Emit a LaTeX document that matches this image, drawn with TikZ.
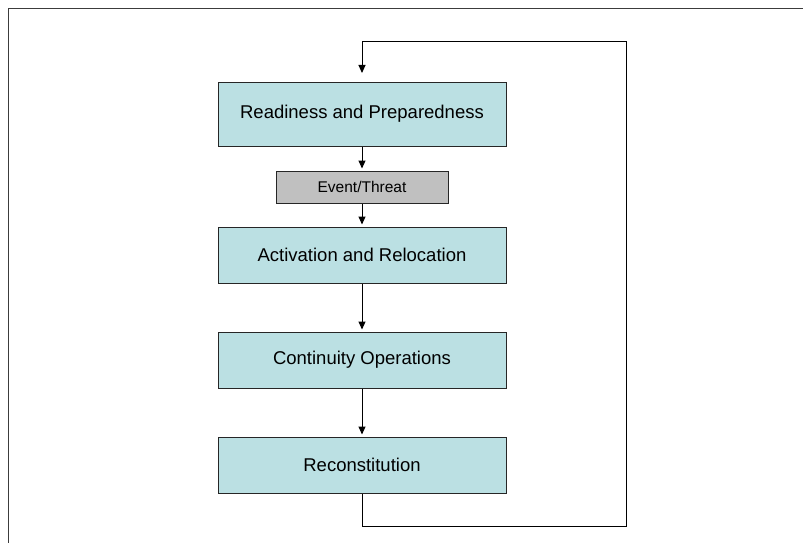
\documentclass[tikz,border=0pt]{standalone}
\usepackage{fontspec}
\setmainfont{Liberation Sans}
\usetikzlibrary{arrows.meta}
\definecolor{phasefill}{RGB}{187,224,227}
\definecolor{eventfill}{RGB}{192,192,192}
\definecolor{framegray}{RGB}{60,60,60}

\begin{document}
\begin{tikzpicture}[x=1pt,y=-1pt,
    phase/.style={draw=black!85,fill=phasefill,line width=1pt,
      minimum width=288pt,minimum height=56pt,inner sep=0pt,
      font=\fontsize{18.5}{22}\selectfont},
    event/.style={draw=black!85,fill=eventfill,line width=1pt,
      minimum width=172pt,minimum height=32pt,inner sep=0pt,
      font=\fontsize{15.5}{18}\selectfont},
    flow/.style={line width=1pt,-{Triangle[width=7pt,length=8pt]},shorten >=2pt}]
    \useasboundingbox (0,0) rectangle (803,543);
    % outer frame, only top and left edges show
    \draw[framegray,line width=1.5pt] (8.5,543) |- (803,8.5);
    \node[phase,minimum height=64pt] (ready) at (362,114) {Readiness and Preparedness};
    \node[event] (event) at (362,187) {Event/Threat};
    \node[phase] (activ) at (362,255) {Activation and Relocation};
    \node[phase] (contin) at (362,360) {Continuity Operations};
    \node[phase] (recon) at (362,465) {Reconstitution};
    \coordinate (loopbr) at (626,526);
    \coordinate (looptr) at (626,42);
    \coordinate (loopin) at (362,73);
    \draw[flow] (ready) -- (event);
    \draw[flow] (event) -- (activ);
    \draw[flow] (activ) -- (contin);
    \draw[flow] (contin) -- (recon);
    % back to the start
    \draw[flow,shorten >=0pt] (recon.south) |- (loopbr) -- (looptr) -| (loopin);
  \end{tikzpicture}
\end{document}
